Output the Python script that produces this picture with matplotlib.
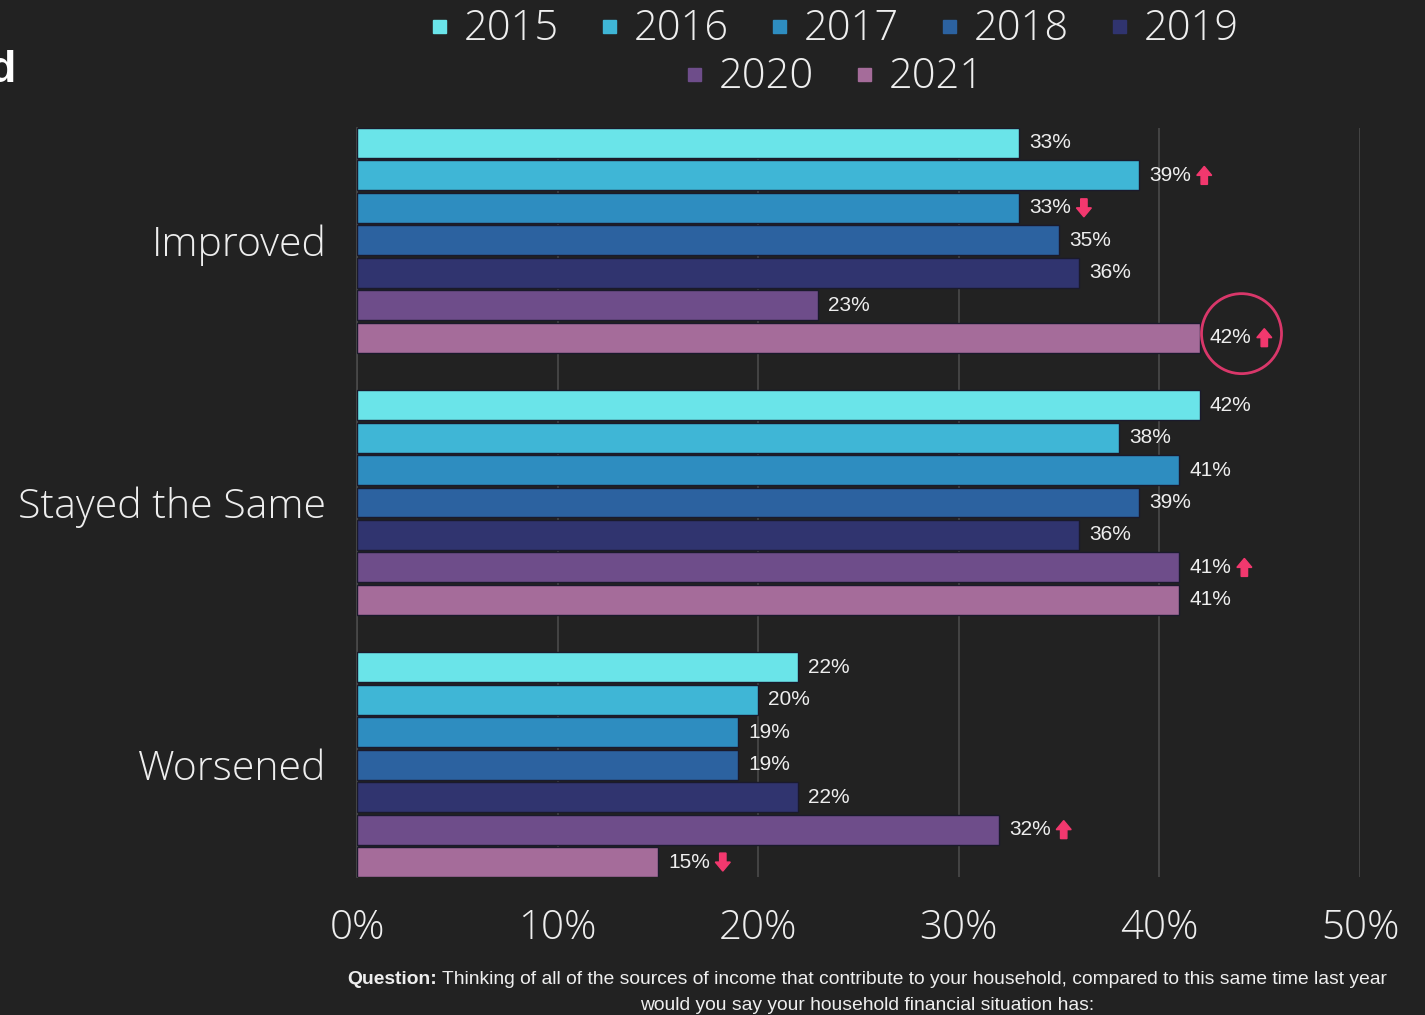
import matplotlib.pyplot as plt
from matplotlib.patches import Polygon, Circle, Rectangle
from matplotlib.transforms import IdentityTransform

# survey results, % of respondents per year
categories = ["Improved", "Stayed the Same", "Worsened"]
years = ["2015", "2016", "2017", "2018", "2019", "2020", "2021"]
improved = [33, 39, 33, 35, 36, 23, 42]
stayed_same = [42, 38, 41, 39, 36, 41, 41]
worsened = [22, 20, 19, 19, 22, 32, 15]
values = [improved, stayed_same, worsened]

# trend arrows: (category index, year index, direction)
trends = [(0, 1, "up"), (0, 2, "down"), (0, 6, "up"),
          (1, 5, "up"), (2, 5, "up"), (2, 6, "down")]
highlight = (0, 6)

xticks = [0, 10, 20, 30, 40, 50]
xtick_labels = ["0%", "10%", "20%", "30%", "40%", "50%"]

colors = ["#6ae4e9", "#3fb6d6", "#2e8dc0", "#2c62a0", "#30346f", "#6e4d8a", "#a56c9a"]
bg = "#222222"
text_col = "#eeeeee"
pink = "#f2386e"

W, H = 1425, 1015
fig = plt.figure(figsize=(W / 100, H / 100), dpi=100, facecolor=bg)
ax = fig.add_axes([357 / W, 1 - 877 / H, (1360 - 357) / W, (877 - 128) / H])
ax.set_facecolor(bg)

group_step = 8.08
bar_h = 0.92
bar_pos = {}
for g, vals in enumerate(values):
    for j, v in enumerate(vals):
        y = g * group_step + j
        bar_pos[(g, j)] = (v, y)
        ax.barh(y, v, height=bar_h, color=colors[j], edgecolor="#1a1a2c",
                linewidth=1.0, zorder=3)

last_y = (len(categories) - 1) * group_step + len(years) - 1
ax.set_ylim(last_y + 0.46, -0.46)
ax.set_xlim(0, 50)

ax.set_xticks(xticks)
ax.set_xticklabels(xtick_labels)
ax.set_yticks([g * group_step + 3 for g in range(len(categories))])
ax.set_yticklabels(categories)
for lab in ax.get_xticklabels() + ax.get_yticklabels():
    lab.set_family("Open Sans")
    lab.set_fontweight("light")
    lab.set_color(text_col)
for lab in ax.get_xticklabels():
    lab.set_fontsize(29)
for lab in ax.get_yticklabels():
    lab.set_fontsize(29.5)
ax.tick_params(axis="x", length=0, pad=22)
ax.tick_params(axis="y", length=0, pad=22)

ax.grid(axis="x", color="#4a4a4a", linewidth=1.2, zorder=0)
for s in ["top", "right", "bottom"]:
    ax.spines[s].set_visible(False)
ax.spines["left"].set_color("#4a4a4a")
ax.spines["left"].set_linewidth(1.2)

# value labels
labels = {}
for (g, j), (v, y) in bar_pos.items():
    labels[(g, j)] = ax.text(v + 0.5, y, f"{v}%", va="center", ha="left",
                             fontsize=15, color=text_col,
                             family="Liberation Sans", zorder=4)

fig.canvas.draw()
renderer = fig.canvas.get_renderer()


def arrow(cx, cy, direction):
    # arrow drawn in pixel coords, cx/cy = centre
    hw, sw, hh, total = 7.5, 3.2, 9, 18
    s = 1 if direction == "up" else -1
    top = cy + s * total / 2
    base = cy - s * total / 2
    neck = top - s * hh
    pts = [(cx, top), (cx + hw, neck), (cx + sw, neck), (cx + sw, base),
           (cx - sw, base), (cx - sw, neck), (cx - hw, neck)]
    fig.add_artist(Polygon(pts, closed=True, color=pink,
                           transform=IdentityTransform(), zorder=5))


for g, j, d in trends:
    bb = labels[(g, j)].get_window_extent(renderer)
    arrow(bb.x1 + 13, (bb.y0 + bb.y1) / 2, d)

v, y = bar_pos[highlight]
cx, cy = ax.transData.transform((v, y))
fig.add_artist(Circle((cx + 42, cy + 4), 40, fill=False, edgecolor="#d9376a",
                      linewidth=2, transform=IdentityTransform(), zorder=5))

# legend, two centred rows
rows = [years[:5], years[5:]]
row_y = [27, 75]
step = 170
for r, row in enumerate(rows):
    left = 845 - (len(row) * step - 26) / 2
    for k, yr in enumerate(row):
        j = years.index(yr)
        mx = left + k * step
        fig.add_artist(Rectangle((mx / W, 1 - (row_y[r] + 6) / H), 13 / W, 13 / H,
                                 color=colors[j], transform=fig.transFigure))
        fig.text((mx + 31) / W, 1 - (row_y[r] + 2) / H, yr, fontsize=30,
                 family="Open Sans", fontweight="light", color=text_col,
                 ha="left", va="center")

# cut-off heading
fig.text(15 / W, 1 - 82 / H, "d", fontsize=32, fontweight="bold",
         color="white", family="Liberation Sans", ha="right", va="baseline")

# question footnote
q_bold = "Question:"
q_rest = (" Thinking of all of the sources of income that contribute to your household,"
          " compared to this same time last year")
t1 = fig.text(0, 1 - 979 / H, q_bold, fontsize=13.9, fontweight="bold",
              color=text_col, family="Liberation Sans", va="center")
t2 = fig.text(0, 1 - 979 / H, q_rest, fontsize=13.9, color=text_col,
              family="Liberation Sans", va="center")
w1 = t1.get_window_extent(renderer).width
w2 = t2.get_window_extent(renderer).width
x0 = 867 - (w1 + w2) / 2
t1.set_x(x0 / W)
t2.set_x((x0 + w1) / W)
fig.text(867 / W, 1 - 1005 / H, "would you say your household financial situation has:",
         fontsize=13.9, color=text_col, family="Liberation Sans",
         ha="center", va="center")

fig.savefig("out.png", dpi=100, facecolor=bg)
